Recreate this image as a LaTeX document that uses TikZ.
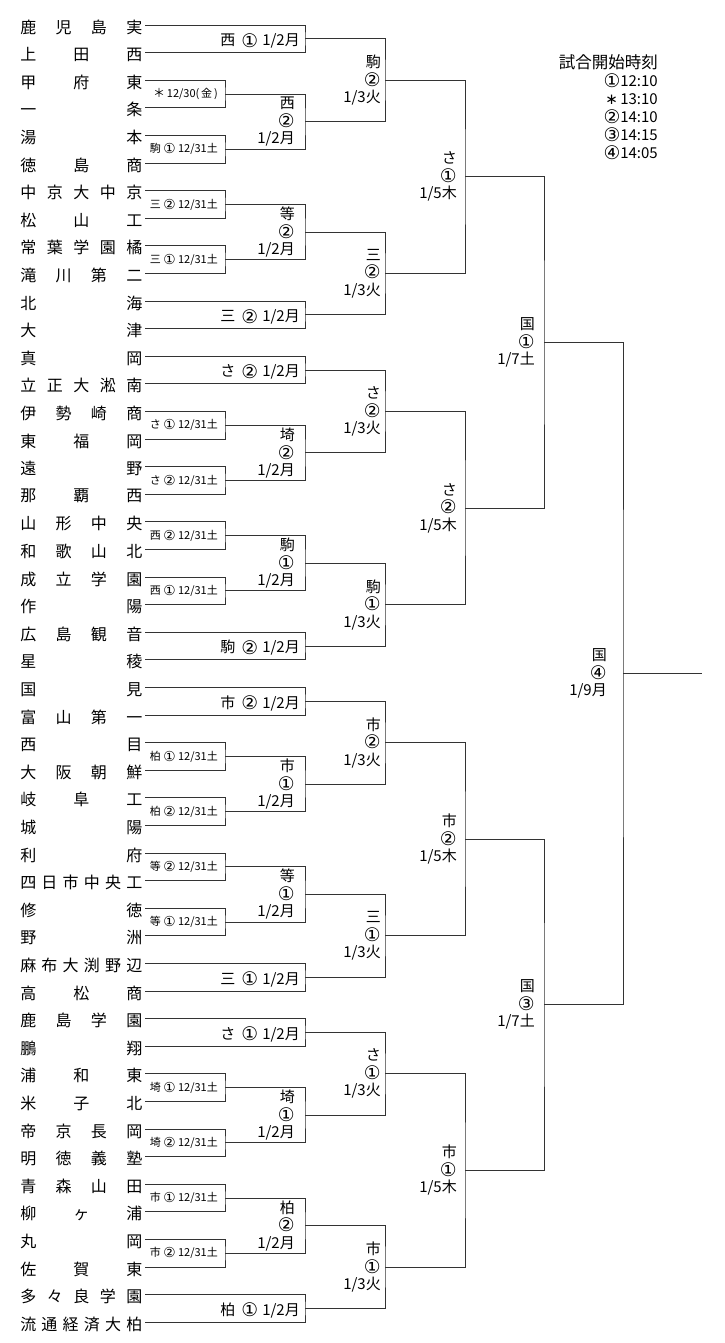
\documentclass[tikz,border=0pt]{standalone}
\usepackage{fontspec}
\setmainfont{Noto Sans CJK JP}
\newfontfamily\circfont{DejaVu Sans}
\usepackage{graphicx}
\usepackage{tikz}
\usetikzlibrary{calc, positioning}
\tikzstyle{bline} = [draw=black!80, line width=0.9pt]
\tikzstyle{team} = [anchor=east, inner sep=0pt, font=\fontsize{16}{16}\selectfont]
\tikzstyle{early} = [inner sep=0pt, node distance=7pt, font=\fontsize{11}{11}\selectfont]
\tikzstyle{single} = [inner sep=0pt, node distance=5pt, yshift=-2pt, font=\fontsize{15}{15}\selectfont]
\tikzstyle{tri} = [inner sep=0pt, align=right, font=\fontsize{15}{17.5}\selectfont]
\tikzstyle{timing} = [inner sep=0pt, anchor=north east, align=right, font=\fontsize{15}{18}\selectfont]
\newcommand{\cn}[1]{\raisebox{-0.09em}{\scalebox{1.25}{\circfont #1}}}
% bracket: name, upper, lower, shift, label style, label
\newcommand{\bout}[6]{%
  \coordinate (#1) at ($(#2)!0.5!(#3)+(#4,0)$);
  \draw [bline] (#2) -| (#1) |- (#3);
  \node (#1l) [#5, left=of #1] {#6};
}

\begin{document}
\begin{tikzpicture}[x=1pt, y=-1pt]
    \useasboundingbox (0,0) rectangle (725,1343);
    % Team names and the start of their lines
    \foreach \name [count=\i from 0] in {鹿 児 島 実, 上 田 西, 甲 府 東, 一 条, 湯 本, 徳 島 商,
        中 京 大 中 京, 松 山 工, 常 葉 学 園 橘, 滝 川 第 二, 北 海, 大 津,
        真 岡, 立 正 大 淞 南, 伊 勢 崎 商, 東 福 岡, 遠 野, 那 覇 西,
        山 形 中 央, 和 歌 山 北, 成 立 学 園, 作 陽, 広 島 観 音, 星 稜,
        国 見, 富 山 第 一, 西 目, 大 阪 朝 鮮, 岐 阜 工, 城 陽,
        利 府, 四 日 市 中 央 工, 修 徳, 野 洲, 麻 布 大 渕 野 辺, 高 松 商,
        鹿 島 学 園, 鵬 翔, 浦 和 東, 米 子 北, 帝 京 長 岡, 明 徳 義 塾,
        青 森 山 田, 柳 ヶ 浦, 丸 岡, 佐 賀 東, 多 々 良 学 園, 流 通 経 済 大 柏} {
        \node (t\i) [team] at (142.5, {27+27.6*\i}) {\makebox[122pt][s]{\name}};
        \coordinate (s\i) at (145, {25+27.6*\i});
    }
    % First round (12/30, 12/31)
    \bout{a1}{s2}{s3}{80}{early}{{\fontsize{12}{12}\selectfont ＊}\,12/30(\,金\,)}
    \bout{a2}{s4}{s5}{80}{early}{駒 \cn{①} 12/31土}
    \bout{a3}{s6}{s7}{80}{early}{三 \cn{②} 12/31土}
    \bout{a4}{s8}{s9}{80}{early}{三 \cn{①} 12/31土}
    \bout{a5}{s14}{s15}{80}{early}{さ \cn{①} 12/31土}
    \bout{a6}{s16}{s17}{80}{early}{さ \cn{②} 12/31土}
    \bout{a7}{s18}{s19}{80}{early}{西 \cn{②} 12/31土}
    \bout{a8}{s20}{s21}{80}{early}{西 \cn{①} 12/31土}
    \bout{a9}{s26}{s27}{80}{early}{柏 \cn{①} 12/31土}
    \bout{a10}{s28}{s29}{80}{early}{柏 \cn{②} 12/31土}
    \bout{a11}{s30}{s31}{80}{early}{等 \cn{②} 12/31土}
    \bout{a12}{s32}{s33}{80}{early}{等 \cn{①} 12/31土}
    \bout{a13}{s38}{s39}{80}{early}{埼 \cn{①} 12/31土}
    \bout{a14}{s40}{s41}{80}{early}{埼 \cn{②} 12/31土}
    \bout{a15}{s42}{s43}{80}{early}{市 \cn{①} 12/31土}
    \bout{a16}{s44}{s45}{80}{early}{市 \cn{②} 12/31土}
    % Second round (1/2)
    \bout{b1}{s0}{s1}{160}{single}{西\hspace{6pt}\cn{①}\hspace{4pt}1/2月}
    \bout{b2}{a1}{a2}{80}{tri, node distance=10pt}{西\\\cn{②}\\1/2月}
    \bout{b3}{a3}{a4}{80}{tri, node distance=10pt}{等\\\cn{②}\\1/2月}
    \bout{b4}{s10}{s11}{160}{single}{三\hspace{6pt}\cn{②}\hspace{4pt}1/2月}
    \bout{b5}{s12}{s13}{160}{single}{さ\hspace{6pt}\cn{②}\hspace{4pt}1/2月}
    \bout{b6}{a5}{a6}{80}{tri, node distance=10pt}{埼\\\cn{②}\\1/2月}
    \bout{b7}{a7}{a8}{80}{tri, node distance=10pt}{駒\\\cn{①}\\1/2月}
    \bout{b8}{s22}{s23}{160}{single}{駒\hspace{6pt}\cn{②}\hspace{4pt}1/2月}
    \bout{b9}{s24}{s25}{160}{single}{市\hspace{6pt}\cn{②}\hspace{4pt}1/2月}
    \bout{b10}{a9}{a10}{80}{tri, node distance=10pt}{市\\\cn{①}\\1/2月}
    \bout{b11}{a11}{a12}{80}{tri, node distance=10pt}{等\\\cn{①}\\1/2月}
    \bout{b12}{s34}{s35}{160}{single}{三\hspace{6pt}\cn{①}\hspace{4pt}1/2月}
    \bout{b13}{s36}{s37}{160}{single}{さ\hspace{6pt}\cn{①}\hspace{4pt}1/2月}
    \bout{b14}{a13}{a14}{80}{tri, node distance=10pt}{埼\\\cn{①}\\1/2月}
    \bout{b15}{a15}{a16}{80}{tri, node distance=10pt}{柏\\\cn{②}\\1/2月}
    \bout{b16}{s46}{s47}{160}{single}{柏\hspace{6pt}\cn{①}\hspace{4pt}1/2月}
    % Third round (1/3)
    \bout{c1}{b1}{b2}{80}{tri, node distance=4pt}{駒\\\cn{②}\\1/3火}
    \bout{c2}{b3}{b4}{80}{tri, node distance=4pt}{三\\\cn{②}\\1/3火}
    \bout{c3}{b5}{b6}{80}{tri, node distance=4pt}{さ\\\cn{②}\\1/3火}
    \bout{c4}{b7}{b8}{80}{tri, node distance=4pt}{駒\\\cn{①}\\1/3火}
    \bout{c5}{b9}{b10}{80}{tri, node distance=4pt}{市\\\cn{②}\\1/3火}
    \bout{c6}{b11}{b12}{80}{tri, node distance=4pt}{三\\\cn{①}\\1/3火}
    \bout{c7}{b13}{b14}{80}{tri, node distance=4pt}{さ\\\cn{①}\\1/3火}
    \bout{c8}{b15}{b16}{80}{tri, node distance=4pt}{市\\\cn{①}\\1/3火}
    % Quarter finals (1/5) and semi finals (1/7)
    \bout{d1}{c1}{c2}{80}{tri, node distance=8pt}{さ\\\cn{①}\\1/5木}
    \bout{d2}{c3}{c4}{80}{tri, node distance=8pt}{さ\\\cn{②}\\1/5木}
    \bout{d3}{c5}{c6}{80}{tri, node distance=8pt}{市\\\cn{②}\\1/5木}
    \bout{d4}{c7}{c8}{80}{tri, node distance=8pt}{市\\\cn{①}\\1/5木}
    \bout{e1}{d1}{d2}{79}{tri, node distance=9pt}{国\\\cn{①}\\1/7土}
    \bout{e2}{d3}{d4}{79}{tri, node distance=9pt}{国\\\cn{③}\\1/7土}
    % Final (1/9)
    \bout{f}{e1}{e2}{79}{tri, node distance=16pt}{国\\\cn{④}\\1/9月}
    \coordinate (champ) at ($(f)+(79,0)$);
    \draw [bline] (f) -- (champ);
    % Kick-off times
    \node (times) [timing] at (658, 54) {{\fontsize{16.5}{18}\selectfont 試合開始時刻}\\\cn{①}12:10\\{\circfont ∗}\,13:10\\\cn{②}14:10\\\cn{③}14:15\\\cn{④}14:05};
\end{tikzpicture}
\end{document}
